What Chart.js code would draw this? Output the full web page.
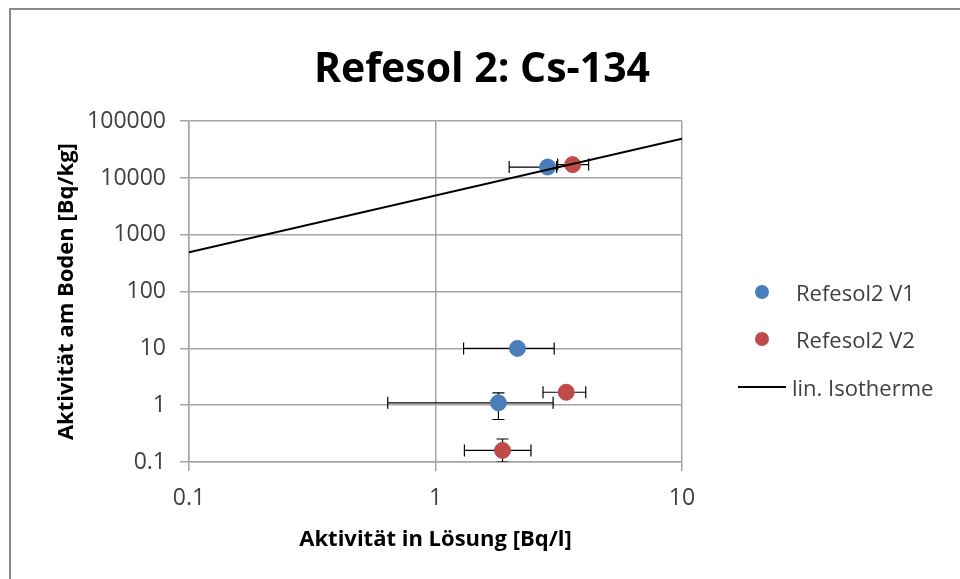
<!DOCTYPE html>
<html>
<head>
<meta charset="utf-8">
<script src="https://cdn.jsdelivr.net/npm/chart.js@4"></script>
<style>
  body { margin: 0; background: #fff; font-family: "Open Sans", sans-serif; }
  #wrap { position: relative; width: 960px; height: 579px; overflow: hidden; }
  #frame { position: absolute; left: 9px; top: 8px; width: 1000px; height: 1000px; border: 2px solid #8a8a8a; box-sizing: border-box; }
  canvas { position: absolute; left: 0; top: 0; }
  #legend { position: absolute; left: 738px; top: 268px; font-size: 22px; color: #404040; }
  #legend .row { height: 47.5px; display: flex; align-items: center; }
  #legend .mk { width: 48px; display: flex; justify-content: center; margin-right: 10px; }
  #legend .dot { width: 14px; height: 14px; border-radius: 50%; }
  #legend .ln { width: 48px; height: 2px; background: #000; }
</style>
</head>
<body>
<div id="wrap">
  <div id="frame"></div>
  <canvas id="myChart" width="960" height="579"></canvas>
  <div id="legend"></div>
</div>
<script>
const ctx = document.getElementById('myChart');

// Refesol2 V1
const v1X = [2.85, 2.15, 1.8];
const v1Y = [15600, 10, 1.1];
const v1XLow = [1.99, 1.30, 0.64];
const v1XHigh = [3.10, 3.03, 3.0];
const v1YLow = [null, null, 0.56];
const v1YHigh = [null, null, 1.65];

// Refesol2 V2
const v2X = [3.6, 3.39, 1.87];
const v2Y = [17200, 1.69, 0.16];
const v2XLow = [3.13, 2.73, 1.31];
const v2XHigh = [4.18, 4.07, 2.44];
const v2YLow = [null, null, 0.1];
const v2YHigh = [null, null, 0.254];

// lin. Isotherme
const isoX = [0.1, 10];
const isoY = [490, 49000];

const xTicks = [0.1, 1, 10];
const yTicks = [0.1, 1, 10, 100, 1000, 10000, 100000];

const toPoints = (xs, ys) => xs.map((x, i) => ({ x: x, y: ys[i] }));

const errors = [
  { x: v1X, y: v1Y, xl: v1XLow, xh: v1XHigh, yl: v1YLow, yh: v1YHigh },
  { x: v2X, y: v2Y, xl: v2XLow, xh: v2XHigh, yl: v2YLow, yh: v2YHigh }
];

// error bars, drawn behind the markers
const errorBars = {
  id: 'errorBars',
  beforeDatasetsDraw(chart) {
    const c = chart.ctx, xs = chart.scales.x, ys = chart.scales.y, a = chart.chartArea;
    c.save();
    c.beginPath();
    c.rect(a.left, a.top, a.right - a.left, a.bottom - a.top);
    c.clip();
    c.strokeStyle = '#000';
    c.lineWidth = 1.2;
    const cap = 6;
    errors.forEach(e => {
      e.x.forEach((xv, i) => {
        const px = xs.getPixelForValue(xv), py = ys.getPixelForValue(e.y[i]);
        c.beginPath();
        if (e.xl[i] != null) {
          const l = xs.getPixelForValue(e.xl[i]), r = xs.getPixelForValue(e.xh[i]);
          c.moveTo(l, py); c.lineTo(r, py);
          c.moveTo(l, py - cap); c.lineTo(l, py + cap);
          c.moveTo(r, py - cap); c.lineTo(r, py + cap);
        }
        if (e.yl[i] != null) {
          const b = ys.getPixelForValue(e.yl[i]), t = ys.getPixelForValue(e.yh[i]);
          c.moveTo(px, b); c.lineTo(px, t);
          c.moveTo(px - cap, b); c.lineTo(px + cap, b);
          c.moveTo(px - cap, t); c.lineTo(px + cap, t);
        }
        c.stroke();
      });
    });
    c.restore();
  }
};

const chart = new Chart(ctx, {
  type: 'scatter',
  data: {
    datasets: [{
      label: 'Refesol2 V1',
      data: toPoints(v1X, v1Y),
      backgroundColor: '#4a7ebb',
      borderColor: '#4a7ebb',
      pointRadius: 8
    }, {
      label: 'Refesol2 V2',
      data: toPoints(v2X, v2Y),
      backgroundColor: '#be4b48',
      borderColor: '#be4b48',
      pointRadius: 8
    }, {
      label: 'lin. Isotherme',
      data: toPoints(isoX, isoY),
      showLine: true,
      borderColor: '#000',
      borderWidth: 2,
      pointRadius: 0,
      order: -1
    }]
  },
  options: {
    responsive: false,
    animation: false,
    layout: { padding: { top: 10, left: 50, right: 46, bottom: 22 } },
    plugins: {
      legend: { display: false },
      tooltip: { enabled: false },
      title: {
        display: true,
        text: 'Refesol 2: Cs-134',
        color: '#000',
        font: { family: 'Open Sans', size: 41, weight: 'bold' },
        padding: { top: 36, bottom: 26 }
      }
    },
    scales: {
      x: {
        type: 'logarithmic',
        min: 0.1,
        max: 10,
        afterBuildTicks: s => { s.ticks = xTicks.map(v => ({ value: v })); },
        afterFit: s => { s.height = 95; },
        ticks: {
          color: '#404040',
          font: { family: 'Open Sans', size: 23 },
          padding: 14,
          maxRotation: 0,
          callback: v => String(v)
        },
        grid: { color: '#a6a6a6', lineWidth: 1.5, tickLength: 9 },
        border: { color: '#a6a6a6', width: 1.5 },
        title: {
          display: true,
          text: 'Aktivität in Lösung [Bq/l]',
          color: '#000',
          font: { family: 'Open Sans', size: 22, weight: 'bold' }
        }
      },
      y: {
        type: 'logarithmic',
        min: 0.1,
        max: 100000,
        afterBuildTicks: s => { s.ticks = yTicks.map(v => ({ value: v })); },
        afterFit: s => { s.width = 139; },
        ticks: {
          color: '#404040',
          font: { family: 'Open Sans', size: 23 },
          padding: 14,
          callback: v => String(v)
        },
        grid: { color: '#a6a6a6', lineWidth: 1.5, tickLength: 9 },
        border: { color: '#a6a6a6', width: 1.5 },
        title: {
          display: true,
          text: 'Aktivität am Boden [Bq/kg]',
          color: '#000',
          font: { family: 'Open Sans', size: 22, weight: 'bold' }
        }
      },
      // empty box on the right that keeps room for the legend
      legendSpace: {
        axis: 'y',
        position: 'right',
        display: true,
        afterFit: s => { s.width = 232; },
        ticks: { display: false },
        grid: { display: false },
        border: { display: false }
      }
    }
  },
  plugins: [errorBars]
});

// legend built from the datasets
const legend = document.getElementById('legend');
chart.data.datasets.forEach(ds => {
  const row = document.createElement('div');
  row.className = 'row';
  const mk = document.createElement('div');
  mk.className = 'mk';
  const sym = document.createElement('div');
  if (ds.showLine) { sym.className = 'ln'; mk.style.marginRight = '6px'; }
  else { sym.className = 'dot'; sym.style.background = ds.backgroundColor; }
  mk.appendChild(sym);
  const txt = document.createElement('span');
  txt.textContent = ds.label;
  row.appendChild(mk);
  row.appendChild(txt);
  legend.appendChild(row);
});
</script>
</body>
</html>
